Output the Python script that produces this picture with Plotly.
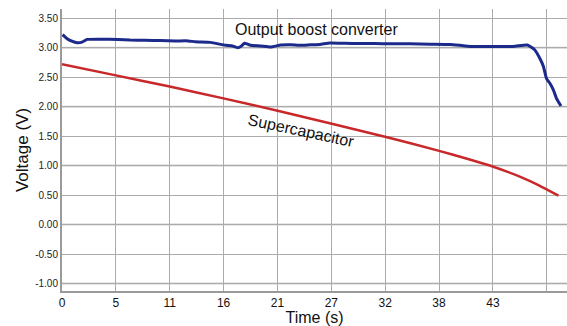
import plotly.graph_objects as go

# ---- data ----
blue_t = [0.05, 0.45, 0.85, 1.5, 2.0, 2.5, 3.8, 5.6, 6.8, 8.3, 9.8, 11.3, 12.6, 13.3, 14.8,
          16.3, 17.0, 17.5, 17.9, 18.2, 18.8, 19.8, 20.8, 21.8, 22.8, 23.8, 24.8, 25.7, 26.7,
          28.2, 29.7, 31.2, 32.7, 34.7, 36.7, 38.7, 40.2, 41.2, 42.7, 44.2, 45.2, 46.4, 47.1,
          47.7, 48.0, 48.3, 48.7, 49.0, 49.3, 49.75]
blue_v = [3.22, 3.16, 3.12, 3.085, 3.095, 3.14, 3.145, 3.14, 3.13, 3.125, 3.12, 3.115, 3.115, 3.10, 3.09,
          3.04, 3.03, 3.00, 3.03, 3.075, 3.04, 3.03, 3.01, 3.045, 3.05, 3.04, 3.05, 3.055, 3.08,
          3.075, 3.07, 3.07, 3.065, 3.065, 3.06, 3.055, 3.03, 3.02, 3.02, 3.02, 3.025, 3.045, 2.97,
          2.80, 2.68, 2.48, 2.38, 2.28, 2.14, 2.01]

red_t = [0.0, 5.37, 10.74, 16.1, 21.5, 26.9, 32.2, 37.6, 40.3, 43.0, 45.7, 47.5, 49.5]
red_v = [2.72, 2.53, 2.34, 2.14, 1.93, 1.71, 1.49, 1.25, 1.12, 0.98, 0.81, 0.67, 0.49]

x_tick_vals = [0, 5.37, 10.74, 16.11, 21.48, 26.85, 32.22, 37.59, 42.96, 48.33]
x_tick_text = ["0", "5", "11", "16", "21", "27", "32", "38", "43", ""]
y_tick_vals = [-1.0, -0.5, 0.0, 0.5, 1.0, 1.5, 2.0, 2.5, 3.0, 3.5]
y_tick_text = ["-1.00", "-0.50", "0.00", "0.50", "1.00", "1.50", "2.00", "2.50", "3.00", "3.50"]

FONT = "Liberation Sans, Arial, sans-serif"

fig = go.Figure()
fig.add_trace(go.Scatter(x=red_t, y=red_v, mode="lines",
                         line=dict(color="#c8282a", width=2.5, shape="spline", smoothing=0.6),
                         showlegend=False))
fig.add_trace(go.Scatter(x=blue_t, y=blue_v, mode="lines",
                         line=dict(color="#1c2a8c", width=3, shape="spline", smoothing=0.4),
                         showlegend=False))

# lighter, thicker integer gridlines (as in the reference)
for v in y_tick_vals:
    if float(v).is_integer():
        fig.add_shape(type="line", xref="paper", x0=0, x1=1, yref="y", y0=v, y1=v,
                      line=dict(color="#d0d0d0", width=2), layer="below")

fig.add_annotation(x=25.4, y=3.30, text="Output boost converter", showarrow=False,
                   font=dict(family=FONT, size=16, color="#111"))
fig.add_annotation(x=23.8, y=1.59, text="Supercapacitor", showarrow=False, textangle=12,
                   font=dict(family=FONT, size=16, color="#111"))

fig.update_layout(
    width=567, height=326,
    margin=dict(l=62, r=0, t=9, b=35),
    paper_bgcolor="white", plot_bgcolor="white",
    font=dict(family=FONT, color="#222"),
    xaxis=dict(range=[0, 50.35], tickmode="array", tickvals=x_tick_vals, ticktext=x_tick_text,
               showgrid=True, gridcolor="#ababab", gridwidth=1, zeroline=False,
               showline=True, linecolor="#9a9a9a", linewidth=2, ticks="",
               tickfont=dict(size=12, color="#111"),
               title=dict(text="Time (s)", font=dict(size=16, color="#111"), standoff=2)),
    yaxis=dict(range=[-1.127, 3.656], tickmode="array", tickvals=y_tick_vals, ticktext=y_tick_text,
               showgrid=True, gridcolor="#ababab", gridwidth=1, zeroline=False,
               showline=True, linecolor="#9a9a9a", linewidth=2, ticks="",
               tickfont=dict(size=10, color="#222"),
               title=dict(text="Voltage (V)", font=dict(size=17, color="#111"), standoff=2)),
)

fig.write_html("out.html", config={"displayModeBar": False},
               post_script="document.body.style.margin='0';document.body.style.padding='0';")
